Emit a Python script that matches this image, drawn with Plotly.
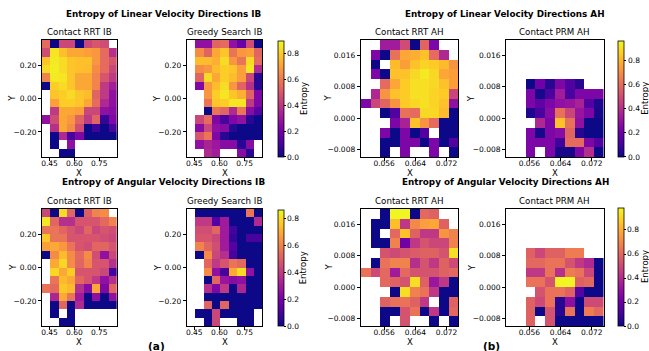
import plotly.graph_objects as go

W, H = 649, 351
FONT = "DejaVu Sans"

# ---- grid coordinates (cell centres) ----
IB_X = [0.43, 0.48, 0.53, 0.58, 0.63, 0.68, 0.73, 0.78, 0.83]
IB_Y = [0.325, 0.275, 0.225, 0.175, 0.125, 0.075, 0.025, -0.025, -0.075,
        -0.125, -0.175, -0.225, -0.275, -0.325]
AH_X = [0.05125, 0.05375, 0.05625, 0.05875, 0.06125, 0.06375, 0.06625,
        0.06875, 0.07125, 0.07375]
AH_Y = [0.01875, 0.01625, 0.01375, 0.01125, 0.00875, 0.00625, 0.00375,
        0.00125, -0.00125, -0.00375, -0.00625, -0.00875]

IB_XTICKS = [0.45, 0.60, 0.75]
IB_XTICKTEXT = ["0.45", "0.60", "0.75"]
IB_YTICKS = [0.20, 0.00, -0.20]
IB_YTICKTEXT = ["0.20", "0.00", "\u22120.20"]
AH_XTICKS = [0.056, 0.064, 0.072]
AH_XTICKTEXT = ["0.056", "0.064", "0.072"]
AH_YTICKS = [0.016, 0.008, 0.000, -0.008]
AH_YTICKTEXT = ["0.016", "0.008", "0.000", "\u22120.008"]
CB_TICKS = [0.0, 0.2, 0.4, 0.6, 0.8]
CB_TICKTEXT = ["0.0", "0.2", "0.4", "0.6", "0.8"]

N = None
# ---- Linear velocity, IB (rows top -> bottom) ----
RRT_IB_LIN = [
    [0.56, 0.00, 0.45, 0.45, 0.00, 0.45, 0.50, 0.47, N],
    [0.47, 0.86, 0.78, 0.72, 0.72, 0.70, 0.68, 0.56, 0.38],
    [0.79, 0.87, 0.84, 0.79, 0.78, 0.78, 0.68, 0.56, 0.50],
    [0.84, 0.88, 0.84, 0.79, 0.78, 0.77, 0.65, 0.56, 0.45],
    [0.63, 0.87, 0.86, 0.79, 0.72, 0.72, 0.63, 0.50, 0.41],
    [0.00, 0.81, 0.84, 0.79, 0.72, 0.72, 0.63, 0.41, 0.32],
    [N, 0.79, 0.81, 0.84, 0.79, 0.77, 0.54, 0.41, 0.27],
    [N, 0.70, 0.81, 0.81, 0.79, 0.72, 0.56, 0.36, 0.27],
    [N, 0.41, 0.72, 0.72, 0.70, 0.45, 0.45, 0.27, 0.25],
    [0.27, 0.47, 0.72, 0.68, 0.54, 0.41, 0.54, 0.07, 0.23],
    [N, 0.38, 0.72, 0.65, 0.47, 0.00, 0.09, 0.00, 0.11],
    [N, 0.00, 0.36, 0.11, 0.23, 0.00, 0.00, 0.00, 0.00],
    [N, 0.00, N, 0.27, N, N, N, N, N],
    [N, N, 0.00, 0.00, N, N, N, N, N],
]
GREEDY_IB_LIN = [
    [N, 0.27, 0.27, 0.54, 0.56, 0.27, 0.18, 0.47, 0.00],
    [N, 0.65, 0.54, 0.72, 0.79, 0.59, 0.68, 0.70, 0.54],
    [N, 0.77, 0.77, 0.74, 0.84, 0.68, 0.59, 0.84, 0.56],
    [N, 0.65, 0.68, 0.77, 0.81, 0.79, 0.70, 0.86, 0.36],
    [N, 0.54, 0.84, 0.72, 0.81, 0.77, 0.70, 0.45, 0.05],
    [N, 0.23, 0.68, 0.77, 0.84, 0.68, 0.54, 0.38, 0.05],
    [N, N, 0.68, 0.81, 0.86, 0.79, 0.74, 0.54, 0.23],
    [N, N, 0.59, 0.79, 0.81, 0.86, 0.86, 0.41, 0.23],
    [N, N, 0.00, 0.59, 0.54, 0.36, 0.59, 0.25, 0.14],
    [N, 0.45, 0.56, 0.23, 0.11, 0.23, 0.27, 0.05, 0.00],
    [N, 0.25, 0.45, 0.27, 0.25, 0.05, 0.00, 0.00, 0.00],
    [N, 0.50, 0.59, 0.23, 0.05, 0.00, 0.00, 0.00, 0.00],
    [N, 0.27, 0.34, 0.30, 0.25, 0.25, 0.05, 0.25, N],
    [N, N, 0.36, 0.32, N, N, 0.25, 0.05, N],
]
# ---- Linear velocity, AH ----
RRT_AH_LIN = [
    [N, N, 0.34, 0.34, 0.50, 0.00, 0.58, 0.24, N, N],
    [N, 0.24, 0.00, 0.62, 0.77, 0.79, 0.84, 0.60, 0.38, N],
    [N, 0.00, N, 0.82, 0.75, 0.84, 0.88, 0.86, 0.82, 0.72],
    [N, 0.24, 0.00, 0.84, 0.84, 0.89, 0.93, 0.89, 0.77, 0.75],
    [N, N, 0.60, 0.77, 0.86, 0.91, 0.91, 0.89, 0.84, 0.75],
    [N, 0.38, 0.72, 0.84, 0.86, 0.91, 0.91, 0.88, 0.86, 0.48],
    [0.24, 0.48, 0.58, 0.72, 0.86, 0.89, 0.91, 0.88, 0.84, 0.29],
    [N, N, 0.00, 0.14, 0.62, 0.60, 0.89, 0.89, 0.82, 0.00],
    [N, N, N, 0.24, 0.36, 0.84, 0.72, 0.60, 0.00, 0.00],
    [N, N, 0.24, 0.00, 0.24, 0.00, 0.14, N, 0.00, 0.00],
    [N, N, 0.00, 0.00, 0.24, 0.24, 0.00, 0.24, 0.00, 0.14],
    [N, N, 0.00, N, 0.24, N, N, 0.24, N, 0.00],
]
PRM_AH_LIN = [
    [N] * 10,
    [N] * 10,
    [N] * 10,
    [N] * 10,
    [N, N, 0.00, 0.21, 0.05, 0.24, 0.14, 0.05, N, N],
    [N, N, 0.24, 0.02, 0.12, 0.34, 0.12, 0.24, 0.24, 0.24],
    [N, N, 0.24, 0.17, 0.24, 0.29, 0.31, 0.36, 0.14, 0.03],
    [N, N, 0.03, 0.12, 0.27, 0.62, 0.48, 0.31, 0.24, 0.02],
    [N, N, N, 0.38, 0.24, 0.84, 0.62, 0.29, 0.00, 0.00],
    [N, N, 0.24, 0.02, 0.24, 0.27, 0.58, 0.05, 0.00, 0.00],
    [N, N, 0.24, 0.24, 0.24, 0.10, 0.60, 0.60, 0.24, 0.14],
    [N, N, 0.24, N, 0.24, 0.02, 0.02, 0.24, 0.40, 0.00],
]
# ---- Angular velocity, IB ----
RRT_IB_ANG = [
    [0.43, 0.00, 0.80, 0.52, 0.00, 0.50, 0.60, 0.62, N],
    [0.83, 0.52, 0.36, 0.36, 0.47, 0.47, 0.47, 0.53, 0.60],
    [0.56, 0.56, 0.52, 0.47, 0.43, 0.52, 0.43, 0.47, 0.45],
    [0.76, 0.56, 0.56, 0.47, 0.47, 0.47, 0.47, 0.45, 0.43],
    [0.67, 0.69, 0.65, 0.56, 0.47, 0.45, 0.52, 0.52, 0.47],
    [0.00, 0.62, 0.73, 0.62, 0.53, 0.62, 0.45, 0.26, 0.43],
    [N, 0.69, 0.79, 0.62, 0.52, 0.60, 0.47, 0.47, 0.36],
    [N, 0.79, 0.69, 0.77, 0.47, 0.47, 0.47, 0.43, 0.09],
    [N, 0.56, 0.73, 0.69, 0.52, 0.47, 0.39, 0.26, 0.36],
    [0.56, 0.53, 0.76, 0.73, 0.36, 0.24, 0.69, 0.22, 0.52],
    [N, 0.33, 0.69, 0.56, 0.30, 0.00, 0.26, 0.00, 0.26],
    [N, 0.00, 0.52, 0.00, 0.34, 0.00, 0.00, 0.00, 0.00],
    [N, 0.00, N, 0.00, N, N, N, N, N],
    [N, N, 0.00, 0.00, N, N, N, N, N],
]
GREEDY_IB_ANG = [
    [N, 0.00, 0.00, 0.00, 0.00, 0.00, 0.00, 0.56, 0.00],
    [N, 0.39, 0.39, 0.13, 0.30, 0.00, 0.00, 0.00, 0.34],
    [N, 0.45, 0.45, 0.52, 0.30, 0.09, 0.00, 0.00, 0.00],
    [N, 0.47, 0.47, 0.43, 0.30, 0.07, 0.00, 0.10, 0.10],
    [N, 0.60, 0.52, 0.45, 0.30, 0.13, 0.00, 0.00, 0.00],
    [N, 0.00, 0.62, 0.43, 0.36, 0.10, 0.00, 0.00, 0.00],
    [N, N, 0.52, 0.39, 0.47, 0.56, 0.53, 0.00, 0.00],
    [N, N, 0.62, 0.26, 0.10, 0.69, 0.80, 0.26, 0.00],
    [N, N, 0.00, 0.52, 0.28, 0.24, 0.26, 0.00, 0.00],
    [N, N, 0.36, 0.22, 0.39, 0.00, 0.33, 0.00, 0.00],
    [N, N, 0.00, 0.00, 0.00, 0.00, 0.00, 0.00, 0.00],
    [N, N, 0.52, 0.00, 0.52, 0.00, 0.00, 0.00, 0.00],
    [N, 0.00, 0.00, 0.43, 0.00, 0.00, 0.00, 0.00, N],
    [N, N, 0.00, 0.43, N, N, 0.00, 0.00, N],
]
# ---- Angular velocity, AH ----
RRT_AH_ANG = [
    [N, N, 0.00, 0.97, 0.97, 0.00, 0.60, 0.58, N, N],
    [N, 0.00, 0.00, 0.84, 0.44, 0.70, 0.76, 0.78, 0.58, N],
    [N, 0.00, N, 0.60, 0.85, 0.58, 0.44, 0.44, 0.73, 0.68],
    [N, 0.00, 0.00, 0.68, 0.21, 0.44, 0.53, 0.49, 0.49, 0.68],
    [N, N, 0.53, 0.50, 0.53, 0.56, 0.58, 0.58, 0.53, 0.92],
    [N, 0.00, 0.63, 0.68, 0.68, 0.41, 0.53, 0.44, 0.58, 0.50],
    [0.63, 0.50, 0.60, 0.34, 0.60, 0.53, 0.53, 0.53, 0.58, 0.60],
    [N, N, 0.60, 0.58, 0.53, 0.92, 0.58, 0.32, 0.44, 0.00],
    [N, N, N, 0.00, 0.92, 0.68, 0.63, 0.44, 0.00, 0.00],
    [N, N, 0.58, 0.63, 0.63, 0.58, 0.44, N, 0.00, 0.58],
    [N, N, 0.00, 0.00, 0.53, 0.63, 0.00, 0.44, 0.00, 0.60],
    [N, N, 0.00, N, 0.53, N, N, 0.00, N, 0.00],
]
PRM_AH_ANG = [
    [N] * 10,
    [N] * 10,
    [N] * 10,
    [N] * 10,
    [N, N, 0.58, 0.49, 0.58, 0.58, 0.66, 0.66, N, N],
    [N, N, 0.60, 0.60, 0.63, 0.63, 0.53, 0.44, 0.39, 0.00],
    [N, N, 0.44, 0.44, 0.63, 0.41, 0.66, 0.63, 0.49, 0.00],
    [N, N, 0.63, 0.63, 0.53, 0.97, 0.97, 0.58, 0.60, 0.00],
    [N, N, N, 0.53, 0.63, 0.63, 0.58, 0.15, 0.00, 0.00],
    [N, N, 0.58, 0.50, 0.63, 0.05, 0.29, 0.00, 0.50, 0.50],
    [N, N, 0.58, 0.00, 0.53, 0.05, 0.63, 0.00, 0.66, 0.60],
    [N, N, 0.58, N, 0.53, 0.00, 0.00, 0.00, 0.00, 0.00],
]

CMAX = {"coloraxis": 0.903, "coloraxis2": 0.967,
        "coloraxis3": 0.861, "coloraxis4": 0.98}


def px_x(p):
    return p / W


def px_y(p):
    return 1 - p / H


TOP = (40, 157)
BOT = (209, 326)
panels = [
    (RRT_IB_LIN, "coloraxis", (42, 116.7), TOP, "IB"),
    (GREEDY_IB_LIN, "coloraxis", (186.7, 262.3), TOP, "IB"),
    (RRT_AH_LIN, "coloraxis2", (360.7, 458.3), TOP, "AH"),
    (PRM_AH_LIN, "coloraxis2", (506, 603.5), TOP, "AH"),
    (RRT_IB_ANG, "coloraxis3", (42, 116.7), BOT, "IB"),
    (GREEDY_IB_ANG, "coloraxis3", (186.7, 262.3), BOT, "IB"),
    (RRT_AH_ANG, "coloraxis4", (360.7, 458.3), BOT, "AH"),
    (PRM_AH_ANG, "coloraxis4", (506, 603.5), BOT, "AH"),
]

fig = go.Figure()
layout = {}
tickfont = dict(family=FONT, size=7.5, color="black")
for i, (z, cax, xd, yd, kind) in enumerate(panels, start=1):
    sfx = "" if i == 1 else str(i)
    xs, ys = (IB_X, IB_Y) if kind == "IB" else (AH_X, AH_Y)
    fig.add_trace(go.Heatmap(z=z, x=xs, y=ys, coloraxis=cax,
                             xaxis="x" + sfx, yaxis="y" + sfx,
                             hoverongaps=False))
    if kind == "IB":
        xr, yr = [0.405, 0.855], [-0.35, 0.35]
        xt, xtt, yt, ytt = IB_XTICKS, IB_XTICKTEXT, IB_YTICKS, IB_YTICKTEXT
    else:
        xr, yr = [0.050, 0.075], [-0.010, 0.020]
        xt, xtt, yt, ytt = AH_XTICKS, AH_XTICKTEXT, AH_YTICKS, AH_YTICKTEXT
    common = dict(showline=True, mirror=True, linecolor="black", linewidth=1,
                  ticks="outside", ticklen=3, tickwidth=0.8, tickcolor="black",
                  tickfont=tickfont, showgrid=False, zeroline=False)
    layout["xaxis" + sfx] = dict(domain=[px_x(xd[0]), px_x(xd[1])], range=xr,
                                 tickvals=xt, ticktext=xtt,
                                 ticklabelstandoff=-4,
                                 anchor="y" + sfx, **common)
    layout["yaxis" + sfx] = dict(domain=[px_y(yd[1]), px_y(yd[0])], range=yr,
                                 tickvals=yt, ticktext=ytt,
                                 anchor="x" + sfx, **common)


def cbar(x_px, top_px, bot_px):
    return dict(x=px_x(x_px), xanchor="left", xpad=0,
                y=px_y(top_px), yanchor="top", ypad=0,
                len=(bot_px - top_px) / H, lenmode="fraction",
                thickness=5.6, thicknessmode="pixels",
                outlinewidth=0.8, outlinecolor="black",
                ticks="outside", ticklen=2, tickwidth=0.8, tickcolor="black",
                tickvals=CB_TICKS, showticklabels=False)


CBARS = [("coloraxis", 277.7, 40.7, 157),
         ("coloraxis2", 618.3, 40.7, 157),
         ("coloraxis3", 277.5, 210, 326),
         ("coloraxis4", 618.0, 208.3, 326)]

ann = []


def text(s, x, y, size, angle=0, xanchor="center"):
    ann.append(dict(text=s, x=px_x(x), y=px_y(y), xref="paper", yref="paper",
                    xanchor=xanchor, yanchor="middle", showarrow=False,
                    textangle=angle, borderpad=0,
                    font=dict(family=FONT, size=size, color="black")))


for name, xp, top, bot in CBARS:
    layout[name] = dict(colorscale="Plasma", cmin=0, cmax=CMAX[name],
                        colorbar=cbar(xp, top, bot))
    for v, t in zip(CB_TICKS, CB_TICKTEXT):
        yy = bot - v / CMAX[name] * (bot - top)
        text(t, xp + 5.6 + 2.6, yy, 7.5, xanchor="left")

text("<b>Entropy of Linear Velocity Directions IB</b>", 163.7, 14, 8.8)
text("<b>Entropy of Linear Velocity Directions AH</b>", 505, 14, 8.8)
text("<b>Entropy of Angular Velocity Directions IB</b>", 163.7, 181.5, 8.8)
text("<b>Entropy of Angular Velocity Directions AH</b>", 505, 181.5, 8.8)

subs = ["Contact RRT IB", "Greedy Search IB", "Contact RRT AH", "Contact PRM AH"]
xcent = [79.3, 224.5, 409.5, 554.8]
ylab_x = [12.3, 157.7, 328, 471.7]
for s, xc, yl in zip(subs, xcent, ylab_x):
    text(s, xc, 32.3, 8.7)
    text(s, xc, 201.3, 8.7)
    text("X", xc, 172.5, 8.5)
    text("X", xc, 341.5, 8.5)
    text("Y", yl, 98.5, 8.5, -90)
    text("Y", yl, 267.5, 8.5, -90)

text("Entropy", 303.3, 98.8, 8.5, -90)
text("Entropy", 645, 98.8, 8.5, -90)
text("Entropy", 303.3, 268, 8.5, -90)
text("Entropy", 645, 267, 8.5, -90)
text("<b>(a)</b>", 156.7, 345.5, 10.5)
text("<b>(b)</b>", 491.7, 345.5, 10.5)

fig.update_layout(width=W, height=H, margin=dict(l=0, r=0, t=0, b=0),
                  paper_bgcolor="white", plot_bgcolor="white",
                  font=dict(family=FONT, color="black"),
                  annotations=ann, showlegend=False, **layout)

fig.write_html("out.html", config={"displayModeBar": False},
               post_script="document.body.style.margin='0px';"
                           "document.body.style.overflow='hidden';")
